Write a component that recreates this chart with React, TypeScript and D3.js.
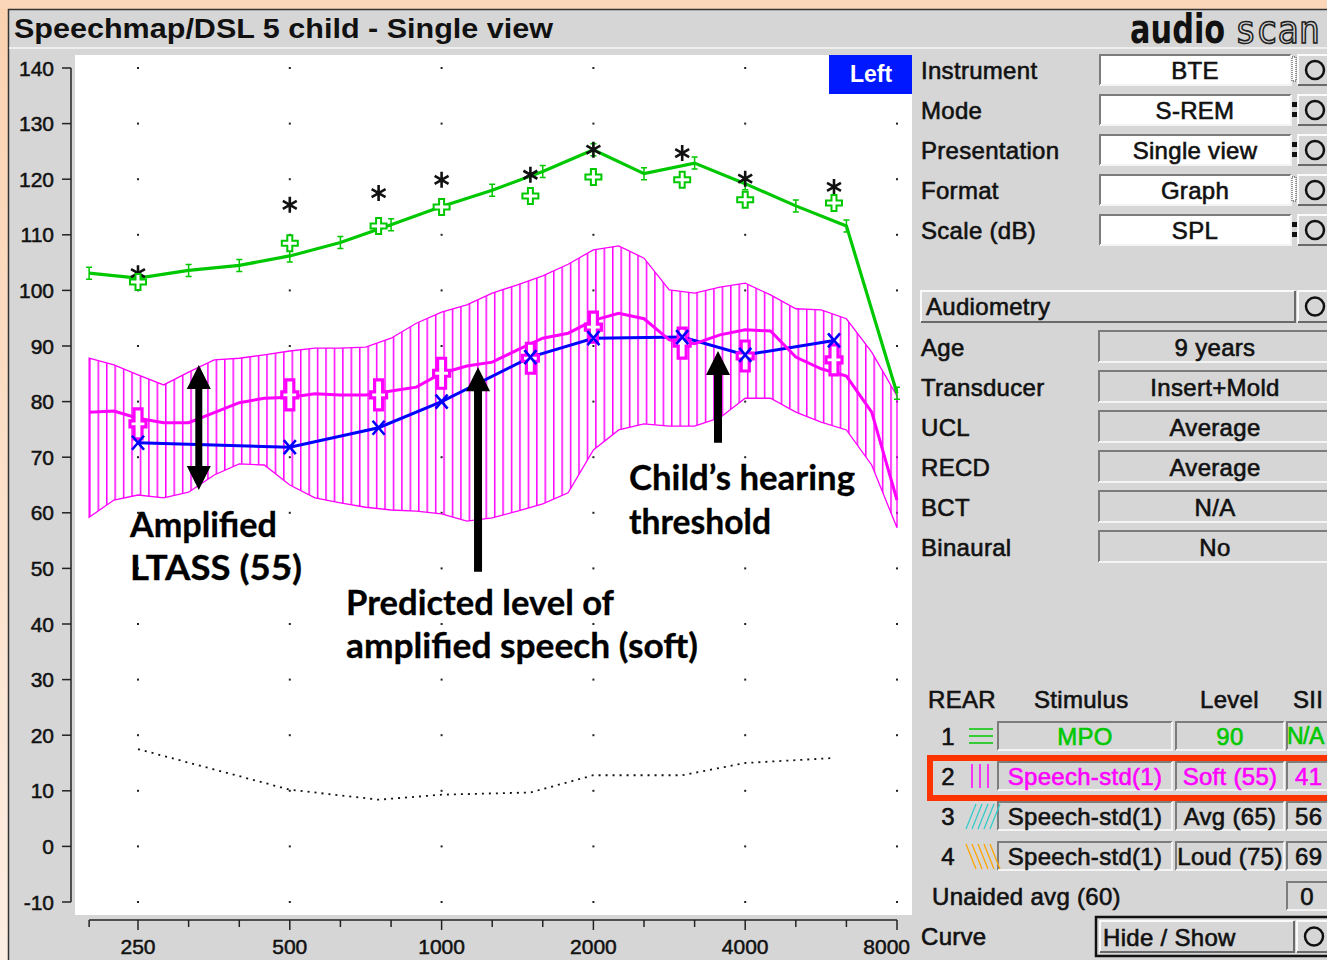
import * as d3 from "d3";
import React from "react";

// Speechmap data (dB SPL)
const bandFreqs = [200, 224, 250, 281, 315, 354, 397, 445, 500, 561, 630, 707, 794, 891, 1000, 1122, 1260, 1414, 1587, 1782, 2000, 2245, 2520, 2828, 3175, 3564, 4000, 4490, 5040, 5657, 6350, 7127, 8000];
const ltassUpper = [87.8, 86.6, 84.8, 83.0, 85.3, 87.5, 87.8, 88.4, 89.1, 89.6, 89.6, 89.8, 91.4, 94.1, 96.1, 97.4, 99.5, 101.0, 102.6, 104.7, 107.3, 108.0, 105.8, 100.1, 99.5, 100.6, 101.3, 99.2, 96.7, 96.5, 94.9, 88.9, 81.0];
const ltassLower = [59.2, 62.3, 63.2, 62.7, 63.7, 66.8, 68.8, 68.6, 65.0, 62.7, 61.8, 61.0, 60.5, 60.3, 59.8, 58.5, 59.1, 60.3, 61.6, 63.6, 71.3, 74.9, 76.0, 75.6, 75.6, 77.1, 80.6, 80.6, 78.1, 76.3, 74.9, 68.6, 57.3];
const ltassMean = [78.1, 78.3, 77.0, 76.2, 76.2, 78.0, 79.8, 80.6, 80.8, 81.4, 81.2, 81.2, 81.9, 82.6, 85.1, 86.4, 87.1, 89.3, 91.4, 92.3, 94.6, 95.9, 94.9, 91.1, 90.4, 92.0, 92.9, 92.7, 88.0, 85.9, 84.6, 78.1, 62.3];

const mpoFreqs = [200, 250, 315, 397, 500, 630, 794, 1000, 1260, 1587, 2000, 2520, 3175, 4000, 5040, 6350, 8000];
const mpoValues = [103.1, 102.2, 103.6, 104.5, 106.2, 108.6, 111.8, 115.1, 118.0, 121.4, 125.3, 121.0, 122.9, 119.2, 115.2, 111.6, 81.5];

const audioFreqs = [250, 500, 750, 1000, 1500, 2000, 3000, 4000, 6000];
const uclValues = [103.1, 115.4, 117.5, 119.9, 120.8, 125.3, 124.7, 120.1, 118.6];
const mpoTargets = [101.5, 108.5, 111.6, 115.0, 117.0, 120.4, 119.9, 116.3, 115.7];
const softTargets = [76.0, 81.2, 81.2, 85.1, 87.8, 93.4, 90.5, 88.2, 87.5];
const thresholds = [72.6, 71.8, 75.3, 80.0, 88.0, 91.4, 91.6, 88.4, 91.0];
const normalHearing = [17.5, 10.2, 8.4, 9.3, 9.7, 12.8, 12.8, 15.0, 15.9];

const xLabelFreqs = [250, 500, 1000, 2000, 4000, 8000];
const yTicks = [-10, 0, 10, 20, 30, 40, 50, 60, 70, 80, 90, 100, 110, 120, 130, 140];

const setupLabels = ["Instrument", "Mode", "Presentation", "Format", "Scale (dB)"];
const setupValues = ["BTE", "S-REM", "Single view", "Graph", "SPL"];
const audioLabels = ["Age", "Transducer", "UCL", "RECD", "BCT", "Binaural"];
const audioValues = ["9 years", "Insert+Mold", "Average", "Average", "N/A", "No"];
const rearStimulus = ["MPO", "Speech-std(1)", "Speech-std(1)", "Speech-std(1)"];
const rearLevel = ["90", "Soft (55)", "Avg (65)", "Loud (75)"];
const rearSII = ["N/A", "41", "56", "69"];

const MAG = "#ff00ff";
const GRN = "#00c800";
const BLU = "#0000ff";
const BG = "#d6d6d6";
const UI = "'Liberation Sans', Arial, sans-serif";
const NOTE = "Lato, 'Open Sans', sans-serif";

const x = d3.scaleLog().domain([250, 8000]).range([138, 897]);
const y = d3.scaleLinear().domain([-10, 140]).range([902, 68]);

const line = d3.line<[number, number]>().x((d) => x(d[0])).y((d) => y(d[1]));
const band = d3
  .area<number>()
  .x((_, i) => x(bandFreqs[i]))
  .y0((_, i) => y(ltassLower[i]))
  .y1((d) => y(d));

function pairs(fs: number[], vs: number[]): [number, number][] {
  return fs.map((f, i) => [f, vs[i]]);
}

function Sunken({ x0, y0, w, h, fill }: any) {
  return (
    <g>
      <rect x={x0} y={y0} width={w} height={h} fill={fill} />
      <path d={`M${x0},${y0 + h}V${y0}H${x0 + w}`} fill="none" stroke="#7c7c7c" strokeWidth={2} />
      <path d={`M${x0 + w},${y0}V${y0 + h}H${x0}`} fill="none" stroke="#f4f4f4" strokeWidth={2} />
    </g>
  );
}

function Raised({ x0, y0, w, h }: any) {
  return (
    <g>
      <rect x={x0} y={y0} width={w} height={h} fill={BG} />
      <path d={`M${x0},${y0 + h}V${y0}H${x0 + w}`} fill="none" stroke="#fafafa" strokeWidth={2} />
      <path d={`M${x0 + w},${y0}V${y0 + h}H${x0}`} fill="none" stroke="#6a6a6a" strokeWidth={2} />
    </g>
  );
}

function CircleBtn({ x0, y0, h }: any) {
  return (
    <g>
      <Raised x0={x0} y0={y0} w={32} h={h} />
      <circle cx={x0 + 17} cy={y0 + h / 2} r={9} fill="none" stroke="#111" strokeWidth={2.5} />
    </g>
  );
}

function UIText({ tx, ty, anchor, color, size, spacing, children }: any) {
  return (
    <text
      x={tx}
      y={ty}
      dy="0.36em"
      textAnchor={anchor || "start"}
      fill={color || "#111"}
      stroke={color || "#111"}
      strokeWidth={0.6}
      fontFamily={UI}
      fontSize={size || 24}
      letterSpacing={spacing === undefined ? 0.3 : spacing}
    >
      {children}
    </text>
  );
}

function upArrow(cx: number, tip: number, tail: number) {
  const hw = 12, hh = 24, sw = 8;
  return `M${cx},${tip}L${cx + hw},${tip + hh}L${cx + sw / 2},${tip + hh}L${cx + sw / 2},${tail}L${cx - sw / 2},${tail}L${cx - sw / 2},${tip + hh}L${cx - hw},${tip + hh}Z`;
}

function doubleArrow(cx: number, top: number, bottom: number) {
  const hw = 12, hh = 24, sw = 7;
  return `M${cx},${top}L${cx + hw},${top + hh}L${cx + sw / 2},${top + hh}L${cx + sw / 2},${bottom - hh}L${cx + hw},${bottom - hh}L${cx},${bottom}L${cx - hw},${bottom - hh}L${cx - sw / 2},${bottom - hh}L${cx - sw / 2},${top + hh}L${cx - hw},${top + hh}Z`;
}

function plusPath(cx: number, cy: number, vw: number, vl: number, hw: number, hl: number) {
  return `M${cx - vw},${cy - vl}H${cx + vw}V${cy - hw}H${cx + hl}V${cy + hw}H${cx + vw}V${cy + vl}H${cx - vw}V${cy + hw}H${cx - hl}V${cy - hw}H${cx - vw}Z`;
}

function asterisk(cx: number, cy: number, r: number) {
  const a = r * 0.87, b = r * 0.5;
  return `M${cx},${cy - r}V${cy + r}M${cx - a},${cy - b}L${cx + a},${cy + b}M${cx - a},${cy + b}L${cx + a},${cy - b}`;
}

export default function App() {
  const hatchW = (x(500) - x(250)) / 18;
  const mpo = pairs(mpoFreqs, mpoValues);

  return (
    <div style={{ position: "fixed", left: 0, top: 0 }}>
      <svg width={1327} height={960} style={{ display: "block" }}>
        <defs>
          <linearGradient id="peach" x1="0" y1="0" x2="0" y2="1">
            <stop offset="0" stopColor="#fbd2b0" />
            <stop offset="1" stopColor="#fdeee3" />
          </linearGradient>
          <pattern id="hatch" patternUnits="userSpaceOnUse" x={x(200)} y={0} width={hatchW} height={20}>
            <rect x={0} y={0} width={1.5} height={20} fill={MAG} />
          </pattern>
          <clipPath id="plotClip">
            <rect x={75} y={55} width={837} height={860} />
          </clipPath>
        </defs>

        {/* frame */}
        <rect x={0} y={0} width={1327} height={960} fill={BG} />
        <rect x={0} y={0} width={8} height={960} fill="url(#peach)" />
        <rect x={0} y={0} width={1327} height={9} fill="#fbd6b8" />
        <path d="M8.5,960V9.5H1327" fill="none" stroke="#333" strokeWidth={1.5} />
        <line x1={9} x2={1327} y1={48} y2={48} stroke="#f6f6f6" strokeWidth={1.5} />

        <text x={14} y={38} fontFamily={UI} fontWeight="bold" fontSize={27} fill="#111" textLength={539} lengthAdjust="spacingAndGlyphs">
          Speechmap/DSL 5 child - Single view
        </text>
        {/* logo */}
        <g transform="translate(1130,43) scale(0.76,1)">
          <text x={0} y={0} fontFamily="'DejaVu Sans', sans-serif" fontWeight="bold" fontSize={40} fill="#111">
            audio
          </text>
        </g>
        <g transform="translate(1235,43) scale(0.93,1)">
          <text x={0} y={0} fontFamily="'DejaVu Sans Mono', monospace" fontSize={38} fill={BG} stroke="#222" strokeWidth={1.6}>
            scan
          </text>
        </g>

        {/* plot area */}
        <rect x={75} y={55} width={837} height={860} fill="#fff" />

        {/* grid dots */}
        {xLabelFreqs.map((f) =>
          yTicks.map((v) => <rect key={`${f}-${v}`} x={x(f) - 1} y={y(v) - 1} width={2} height={2} fill="#222" />)
        )}

        {/* y axis */}
        <line x1={71} x2={71} y1={y(140)} y2={y(-10)} stroke="#222" strokeWidth={1.5} />
        {yTicks.map((v) => (
          <g key={v}>
            <line x1={62} x2={71} y1={y(v)} y2={y(v)} stroke="#222" strokeWidth={1.5} />
            <text x={54} y={y(v)} dy="0.36em" textAnchor="end" fontFamily={UI} fontSize={21} fill="#111" stroke="#111" strokeWidth={0.5}>
              {v}
            </text>
          </g>
        ))}

        {/* x axis */}
        <line x1={x(200)} x2={x(8000)} y1={920} y2={920} stroke="#222" strokeWidth={1.5} />
        {mpoFreqs.map((f) => (
          <line key={f} x1={x(f)} x2={x(f)} y1={920} y2={xLabelFreqs.includes(f) ? 930 : 927} stroke="#222" strokeWidth={1.5} />
        ))}
        {xLabelFreqs.map((f) => (
          <text
            key={f}
            x={f === 8000 ? 910 : x(f)}
            y={954}
            textAnchor={f === 8000 ? "end" : "middle"}
            fontFamily={UI}
            fontSize={21}
            fill="#111"
            stroke="#111"
            strokeWidth={0.5}
          >
            {f}
          </text>
        ))}

        <g clipPath="url(#plotClip)">
          {/* normal hearing threshold */}
          <path d={line(pairs(audioFreqs, normalHearing)) || ""} fill="none" stroke="#111" strokeWidth={1.8} strokeDasharray="2 5" />

          {/* LTASS band */}
          <path d={band(ltassUpper) || ""} fill="url(#hatch)" stroke={MAG} strokeWidth={1.3} />

          {/* MPO */}
          <path d={line(mpo) || ""} fill="none" stroke={GRN} strokeWidth={3.2} />
          {mpo.map((d) => (
            <path
              key={d[0]}
              d={`M${x(d[0])},${y(d[1]) - 6}V${y(d[1]) + 6}M${x(d[0]) - 3},${y(d[1]) - 6}H${x(d[0]) + 3}M${x(d[0]) - 3},${y(d[1]) + 6}H${x(d[0]) + 3}`}
              stroke={GRN}
              strokeWidth={1.5}
            />
          ))}

          {/* threshold */}
          <path d={line(pairs(audioFreqs, thresholds)) || ""} fill="none" stroke={BLU} strokeWidth={3} />

          {/* LTASS mean */}
          <path d={line(pairs(bandFreqs, ltassMean)) || ""} fill="none" stroke={MAG} strokeWidth={3} />

          {/* markers */}
          {audioFreqs.map((f, i) => (
            <g key={f}>
              <path d={asterisk(x(f), y(uclValues[i]), 8)} stroke="#111" strokeWidth={2.6} />
              <path d={plusPath(x(f), y(mpoTargets[i]), 2.5, 8, 2.5, 8)} fill="#fff" stroke={GRN} strokeWidth={2} />
              <path d={plusPath(x(f), y(softTargets[i]), 4, 15, 3, 8)} fill="#fff" stroke={MAG} strokeWidth={3.2} />
              <path
                d={`M${x(f) - 6},${y(thresholds[i]) - 7}L${x(f) + 6},${y(thresholds[i]) + 7}M${x(f) - 6},${y(thresholds[i]) + 7}L${x(f) + 6},${y(thresholds[i]) - 7}`}
                stroke={BLU}
                strokeWidth={2.6}
              />
            </g>
          ))}
        </g>

        {/* Left badge */}
        <rect x={829} y={55} width={83} height={39} fill="#0018ff" />
        <text x={871} y={82} textAnchor="middle" fontFamily={UI} fontWeight="bold" fontSize={23} fill="#fff">
          Left
        </text>

        {/* annotations */}
        <path d={doubleArrow(x(330), y(86.6), y(64.1))} fill="#000" />
        <path d={upArrow(x(1181), y(86.2), y(49.4))} fill="#000" />
        <path d={upArrow(x(3533), y(89.1), y(72.6))} fill="#000" />
        <g fontFamily={NOTE} fontWeight="bold" fontSize={34} fill="#000" stroke="#000" strokeWidth={0.3}>
          <text x={130} y={537} textLength={147} lengthAdjust="spacingAndGlyphs">Amplified</text>
          <text x={130} y={580} textLength={172} lengthAdjust="spacingAndGlyphs">LTASS (55)</text>
          <text x={346} y={615} textLength={268} lengthAdjust="spacingAndGlyphs">Predicted level of</text>
          <text x={346} y={658} textLength={352} lengthAdjust="spacingAndGlyphs">amplified speech (soft)</text>
          <text x={629} y={490} textLength={226} lengthAdjust="spacingAndGlyphs">Child’s hearing</text>
          <text x={629} y={534} textLength={142} lengthAdjust="spacingAndGlyphs">threshold</text>
        </g>

        {/* right panel: setup */}
        {setupLabels.map((l, i) => (
          <g key={l}>
            <UIText tx={921} ty={70 + 40 * i}>{l}</UIText>
            <Sunken x0={1100} y0={55 + 40 * i} w={191} h={30} fill="#fff" />
            <UIText tx={1195} ty={70 + 40 * i} anchor="middle">{setupValues[i]}</UIText>
            {i === 0 || i === 3 ? (
              <rect x={1292} y={57 + 40 * i} width={4} height={24} fill="#fff" stroke="#333" strokeWidth={1} strokeDasharray="1 1" />
            ) : (
              <g>
                <rect x={1292} y={62 + 40 * i} width={5} height={5} fill="#111" />
                <rect x={1292} y={72 + 40 * i} width={5} height={5} fill="#111" />
              </g>
            )}
            <CircleBtn x0={1298} y0={55 + 40 * i} h={30} />
          </g>
        ))}

        {/* audiometry */}
        <Raised x0={921} y0={291} w={374} h={31} />
        <UIText tx={926} ty={306}>Audiometry</UIText>
        <CircleBtn x0={1298} y0={291} h={31} />
        {audioLabels.map((l, i) => (
          <g key={l}>
            <UIText tx={921} ty={347 + 40 * i}>{l}</UIText>
            <Sunken x0={1099} y0={331 + 40 * i} w={240} h={31} fill={BG} />
            <UIText tx={1215} ty={347 + 40 * i} anchor="middle">{audioValues[i]}</UIText>
          </g>
        ))}

        {/* REAR table */}
        <UIText tx={928} ty={699}>REAR</UIText>
        <UIText tx={1034} ty={699}>Stimulus</UIText>
        <UIText tx={1200} ty={699}>Level</UIText>
        <UIText tx={1293} ty={699}>SII</UIText>
        {rearStimulus.map((s, i) => {
          const cy = 736 + 40 * i;
          const col = i === 0 ? GRN : i === 1 ? MAG : "#111";
          return (
            <g key={i}>
              <UIText tx={948} ty={cy} anchor="middle">{i + 1}</UIText>
              <Sunken x0={998} y0={cy - 14} w={174} h={28} fill={BG} />
              <Sunken x0={1176} y0={cy - 14} w={108} h={28} fill={BG} />
              <Sunken x0={1287} y0={cy - 14} w={50} h={28} fill={BG} />
              <UIText tx={1085} ty={cy} anchor="middle" color={col}>{s}</UIText>
              <UIText tx={1230} ty={cy} anchor="middle" color={col}>{rearLevel[i]}</UIText>
              <UIText tx={i === 0 ? 1287 : 1295} ty={cy} color={col} size={i === 0 ? 23 : 24} spacing={i === 0 ? -0.5 : 0.3}>
                {rearSII[i]}
              </UIText>
            </g>
          );
        })}
        {/* curve icons */}
        <g stroke={GRN} strokeWidth={1.5}>
          <line x1={969} x2={993} y1={729} y2={729} />
          <line x1={969} x2={993} y1={736} y2={736} />
          <line x1={969} x2={993} y1={743} y2={743} />
        </g>
        <g stroke={MAG} strokeWidth={1.5}>
          <line x1={972} x2={972} y1={764} y2={788} />
          <line x1={980} x2={980} y1={764} y2={788} />
          <line x1={988} x2={988} y1={764} y2={788} />
        </g>
        <g stroke="#33cccc" strokeWidth={1.3}>
          {[0, 6, 12, 18, 24].map((o) => (
            <line key={o} x1={966 + o} x2={976 + o} y1={829} y2={804} />
          ))}
        </g>
        <g stroke="#ffa500" strokeWidth={1.3}>
          {[0, 6, 12, 18, 24].map((o) => (
            <line key={o} x1={966 + o} x2={976 + o} y1={844} y2={869} />
          ))}
        </g>
        <rect x={930} y={758} width={410} height={40} fill="none" stroke="#ff3300" strokeWidth={6} />

        <UIText tx={932} ty={896}>Unaided avg (60)</UIText>
        <Sunken x0={1287} y0={882} w={50} h={28} fill={BG} />
        <UIText tx={1307} ty={896} anchor="middle">0</UIText>

        <UIText tx={921} ty={936}>Curve</UIText>
        <rect x={1096} y={917} width={240} height={39} fill={BG} stroke="#111" strokeWidth={2.5} />
        <Raised x0={1100} y0={921} w={194} h={31} />
        <UIText tx={1103} ty={937}>Hide / Show</UIText>
        <CircleBtn x0={1297} y0={921} h={31} />
      </svg>
    </div>
  );
}
